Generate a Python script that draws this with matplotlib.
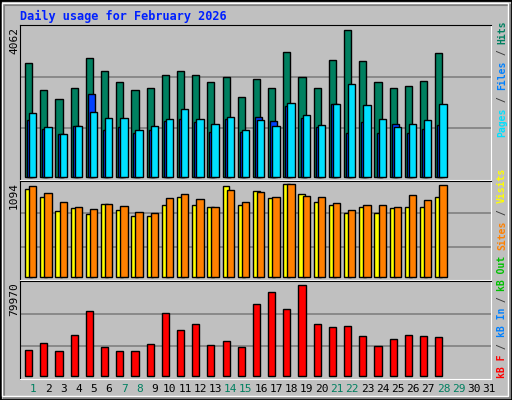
import matplotlib
matplotlib.use("Agg")
import matplotlib.pyplot as plt
from matplotlib.patches import Rectangle

days = list(range(1, 29))
hits = [3125, 2380, 2132, 2435, 3262, 2904, 2601, 2380, 2435, 2794, 2904, 2794, 2601, 2739,
        2187, 2683, 2435, 3428, 2739, 2435, 3207, 4062, 3180, 2601, 2435, 2490, 2628, 3400]
files = [1553, 1305, 1167, 1388, 2270, 1277, 1360, 1195, 1277, 1525, 1581, 1498, 1222, 1581,
         1222, 1636, 1525, 1939, 1608, 1360, 1994, 1195, 1498, 1195, 1443, 1195, 1305, 1415]
pages = [1746, 1360, 1167, 1388, 1774, 1608, 1608, 1277, 1388, 1581, 1856, 1581, 1443, 1636,
         1277, 1553, 1388, 2022, 1691, 1415, 1994, 2546, 1967, 1581, 1360, 1443, 1553, 1994]
visits = [1035, 940, 774, 810, 739, 857, 786, 715, 715, 845, 940, 845, 822, 1070,
          845, 1011, 928, 1094, 976, 881, 845, 751, 822, 751, 810, 822, 822, 940]
sites = [1070, 988, 881, 822, 798, 857, 833, 762, 751, 928, 976, 916, 822, 1023,
         881, 999, 940, 1094, 952, 940, 869, 786, 845, 845, 822, 964, 905, 1082]
kbytes = [23060, 29190, 22180, 36190, 57210, 25690, 21310, 21310, 28310, 55460, 40570, 45830,
          27440, 30940, 25690, 63340, 73850, 58960, 79970, 45830, 43200, 44080, 35320, 26560,
          32690, 36190, 35320, 34440]
weekend = [1, 7, 8, 14, 15, 21, 22, 28, 29]

W, H = 512, 400
BG = "#c0c0c0"
MONO = "DejaVu Sans Mono"

fig = plt.figure(figsize=(W / 100, H / 100), dpi=100)
fig.patch.set_facecolor(BG)
# bevelled frame
fig.patches.append(Rectangle((0, 0), 1, 1, transform=fig.transFigure, fill=False,
                             edgecolor="black", lw=2))
fig.patches.append(Rectangle((2 / W, 4 / H), 1 - 6 / W, 1 - 7 / H, transform=fig.transFigure,
                             fill=False, edgecolor="white", lw=1))
fig.patches.append(Rectangle((4 / W, 2 / H), 1 - 6 / W, 1 - 7 / H, transform=fig.transFigure,
                             fill=False, edgecolor="#808080", lw=1.5, zorder=-1))


def panel(top, bottom, ylim, grids):
    ax = fig.add_axes([20 / W, (H - bottom) / H, 471 / W, (bottom - top) / H])
    ax.set_facecolor(BG)
    ax.set_xlim(0, 31)
    ax.set_ylim(*ylim)
    ax.set_xticks([])
    ax.set_yticks([])
    for g in grids:
        ax.axhline(g, color="#808080", lw=1.2, zorder=0)
    for s in ax.spines.values():
        s.set_color("black")
    ax.spines["bottom"].set_color("white")
    ax.spines["right"].set_color("white")
    return ax


x0 = [d - 1 for d in days]
ec = dict(edgecolor="black", linewidth=1)

ax1 = panel(24.5, 180, (-90, 4200), [2763, 1354])
ax1.bar([x + 0.33 for x in x0], hits, width=0.47, align="edge", color="#008060", **ec)
ax1.bar([x + 0.47 for x in x0], files, width=0.45, align="edge", color="#0040ff", **ec)
ax1.bar([x + 0.6 for x in x0], pages, width=0.48, align="edge", color="#00e0ff", **ec)

ax2 = panel(180.5, 280, (-39, 1136), [750, 355])
ax2.bar([x + 0.33 for x in x0], visits, width=0.45, align="edge", color="#ffff00", **ec)
ax2.bar([x + 0.6 for x in x0], sites, width=0.48, align="edge", color="#ff8000", **ec)

ax3 = panel(280.5, 379, (-2900, 83800), [54290, 25980])
ax3.bar([x + 0.33 for x in x0], kbytes, width=0.47, align="edge", color="#ff0000", **ec)


def px(x, y):
    return x / W, (H - y) / H


fig.text(*px(20, 16), "Daily usage for February 2026", color="#0020ff", fontsize=8.6,
         fontweight="bold", family=MONO, va="center", ha="left")

for y, lab in [(27, "4062"), (182, "1094"), (282, "79970")]:
    fig.text(*px(14, y), lab, rotation=90, fontsize=8, family=MONO, ha="center", va="top")

for d in range(1, 32):
    col = "#008060" if d in weekend else "black"
    fig.text(*px(33 + (d - 1) * 15.2, 389), str(d), color=col, fontsize=8, family=MONO,
             ha="center", va="center")


def stacked(y_start, pieces, x=502, adv=5.83):
    y = y_start
    for txt, col in pieces:
        fig.text(*px(x, y), txt, color=col, rotation=90, fontsize=7, fontweight="bold",
                 family=MONO, ha="center", va="bottom")
        y -= adv * len(txt)


stacked(137, [("Pages", "#00e0ff"), (" / ", "#404040"), ("Files", "#0080ff"),
              (" / ", "#404040"), ("Hits", "#008060")])
stacked(378, [("kB F", "#ff0000"), (" / ", "#404040"), ("kB In", "#0080ff"),
              (" / ", "#404040"), ("kB Out", "#00c000"), (" ", "black"),
              ("Sites", "#ff8000"), (" / ", "#404040"), ("Visits", "#ffff00")])

fig.savefig("out.png", dpi=100, facecolor=BG)
